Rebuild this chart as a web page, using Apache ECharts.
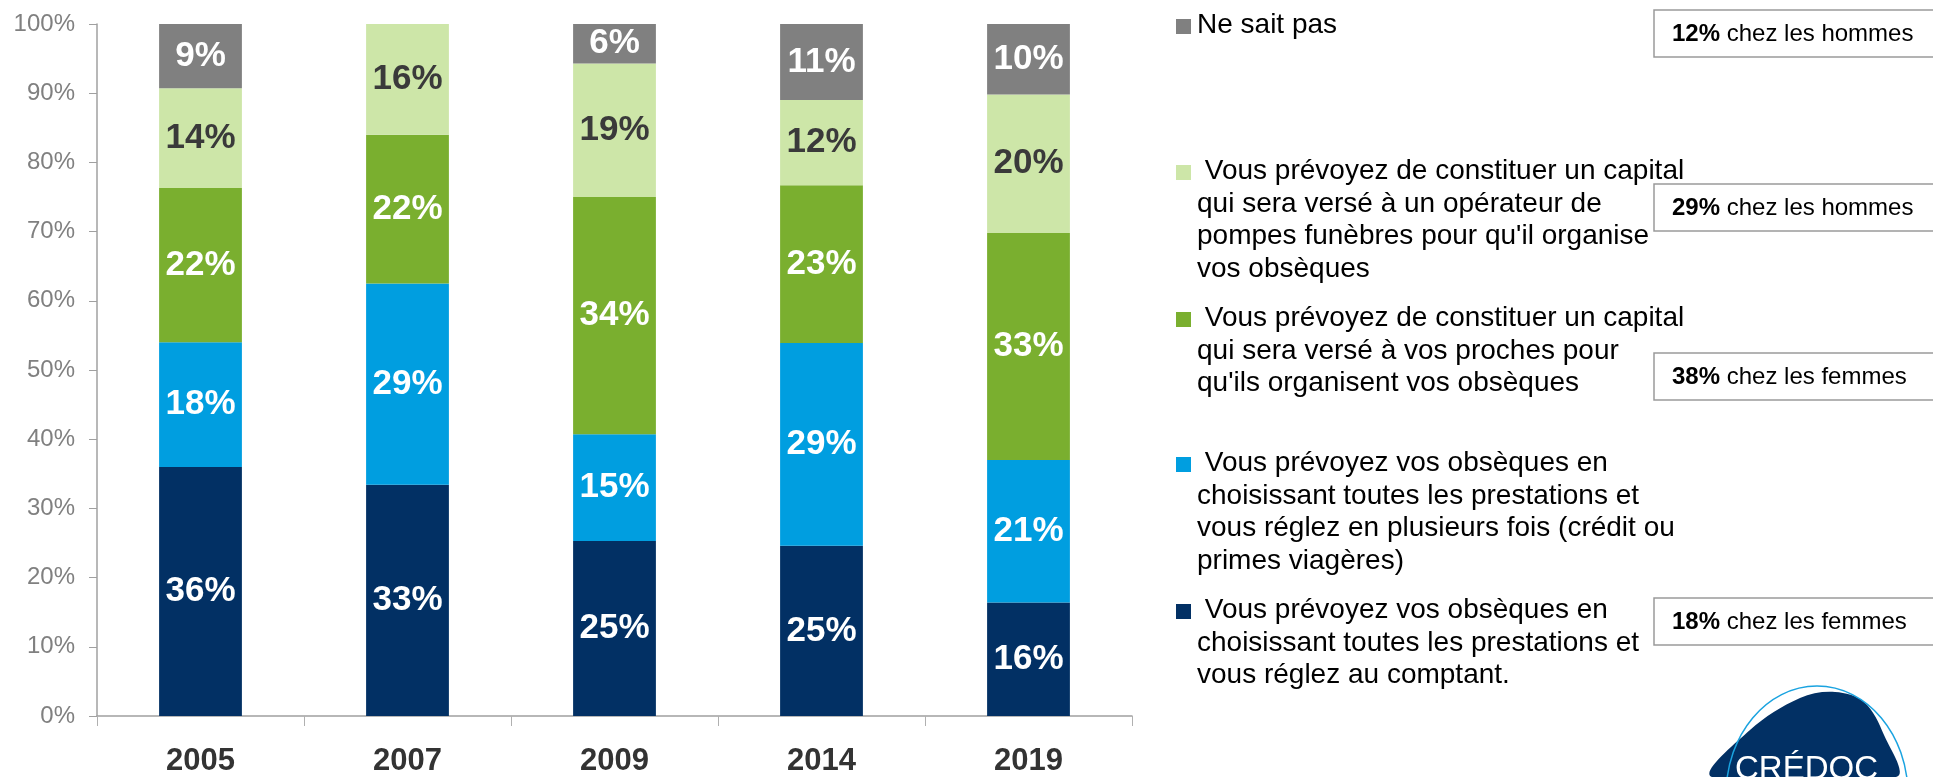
<!DOCTYPE html>
<html>
<head>
<meta charset="utf-8">
<title>Obsèques</title>
<script src="https://cdn.jsdelivr.net/npm/echarts@6/dist/echarts.min.js"></script>
<style>
  html, body { margin: 0; padding: 0; background: #fff; }
  #main { width: 1933px; height: 777px; }
</style>
</head>
<body>
<div id="main"></div>
<script>
// données (bas de pile -> haut de pile)
var years = ['2005', '2007', '2009', '2014', '2019'];
var comptant = [36.0, 33.4, 25.3, 24.6, 16.4];
var plusieursFois = [18.0, 29.1, 15.4, 29.3, 20.6];
var proches = [22.3, 21.5, 34.3, 22.8, 32.8];
var operateur = [14.4, 16.0, 19.3, 12.3, 20.0];
var neSaitPas = [9.3, 0, 5.7, 11.0, 10.2];
var yTicks = [0, 100, 10]; // min, max, pas

var seriesNames = [
  'Vous prévoyez vos obsèques en\nchoisissant toutes les prestations et\nvous réglez au comptant.',
  'Vous prévoyez vos obsèques en\nchoisissant toutes les prestations et\nvous réglez en plusieurs fois (crédit ou\nprimes viagères)',
  'Vous prévoyez de constituer un capital\nqui sera versé à vos proches pour\nqu\'ils organisent vos obsèques',
  'Vous prévoyez de constituer un capital\nqui sera versé à un opérateur de\npompes funèbres pour qu\'il organise\nvos obsèques',
  'Ne sait pas'
];
var colors = ['#023064', '#009EE0', '#7AAF2F', '#CDE6A8', '#808080'];

// encadrés
var notePct = [12, 29, 38, 18];
var noteWho = ['hommes', 'hommes', 'femmes', 'femmes'];

var FONT = '"Liberation Sans", Arial, sans-serif';
var chart = echarts.init(document.getElementById('main'));

function makeSeries(name, data, color, labelColor) {
  return {
    name: name,
    type: 'bar',
    stack: 'total',
    data: data,
    barWidth: '40%',
    itemStyle: { color: color },
    label: {
      show: true,
      position: 'inside',
      color: labelColor,
      fontFamily: FONT,
      fontWeight: 'bold',
      fontSize: 35,
      formatter: function (p) {
        return p.value > 0 ? Math.round(p.value) + '%' : '';
      }
    }
  };
}

var allData = [comptant, plusieursFois, proches, operateur, neSaitPas];
var labelColors = ['#fff', '#fff', '#fff', '#3A3A3A', '#fff'];
var series = [];
for (var i = 0; i < allData.length; i++) {
  series.push(makeSeries(seriesNames[i], allData[i], colors[i], labelColors[i]));
}

// légende dessinée à la main (positions irrégulières)
var legendTops = [604, 457, 312, 165, 19];
var LH = 32.5;
var graphics = [];
for (var k = 0; k < seriesNames.length; k++) {
  var ly = legendTops[k];
  graphics.push({
    type: 'rect',
    shape: { x: 1176, y: ly, width: 15, height: 15 },
    style: { fill: colors[k] }
  });
  graphics.push({
    type: 'text',
    x: 1197,
    y: ly + 7.5 - LH / 2 - 1,
    style: {
      text: (k === 4 ? '' : ' ') + seriesNames[k],
      fontFamily: FONT,
      fontSize: 28,
      lineHeight: LH,
      fill: '#000',
      verticalAlign: 'top'
    }
  });
}

var noteTops = [10, 184, 353, 598];
for (var n = 0; n < notePct.length; n++) {
  graphics.push({
    type: 'rect',
    shape: { x: 1654, y: noteTops[n], width: 300, height: 47 },
    style: { fill: '#fff', stroke: '#9a9a9a', lineWidth: 1.5 }
  });
  graphics.push({
    type: 'text',
    x: 1672,
    y: noteTops[n] + 24,
    style: {
      text: '{b|' + notePct[n] + '%} chez les ' + noteWho[n],
      rich: { b: { fontWeight: 'bold', fontSize: 24, fontFamily: FONT } },
      fontFamily: FONT,
      fontSize: 24,
      fill: '#000',
      verticalAlign: 'middle'
    }
  });
}

// logo CRÉDOC (coin bas droit)
graphics.push({
  type: 'polygon',
  shape: {
    points: [[1712, 777], [1750, 730], [1800, 698], [1835, 692], [1864, 702], [1884, 735], [1896, 777]],
    smooth: 0.35
  },
  style: { fill: '#023064' }
});
graphics.push({
  type: 'ellipse',
  shape: { cx: 1817, cy: 795, rx: 91, ry: 109 },
  style: { fill: null, stroke: '#1AA3E0', lineWidth: 1.5 }
});
graphics.push({
  type: 'text',
  x: 1735,
  y: 753,
  style: { text: 'CRÉDOC', fontFamily: FONT, fontSize: 33, fill: '#fff', verticalAlign: 'top' }
});

var option = {
  backgroundColor: '#ffffff',
  animation: false,
  grid: { left: 97, top: 24, width: 1035, height: 696 },
  xAxis: {
    type: 'category',
    data: years,
    axisLine: { lineStyle: { color: '#a0a0a0', width: 1.5 } },
    axisTick: { show: true, length: 10, lineStyle: { color: '#b0b0b0' } },
    axisLabel: {
      color: '#333',
      fontFamily: FONT,
      fontWeight: 'bold',
      fontSize: 31,
      margin: 30
    }
  },
  yAxis: {
    type: 'value',
    min: yTicks[0],
    max: yTicks[1],
    interval: yTicks[2],
    axisLine: { show: true, lineStyle: { color: '#a0a0a0', width: 1.5 } },
    axisTick: { show: true, length: 8, lineStyle: { color: '#a0a0a0' } },
    splitLine: { show: false },
    axisLabel: {
      formatter: '{value}%',
      color: '#808080',
      fontFamily: FONT,
      fontSize: 24,
      margin: 22
    }
  },
  series: series,
  graphic: graphics
};

chart.setOption(option);
</script>
</body>
</html>
